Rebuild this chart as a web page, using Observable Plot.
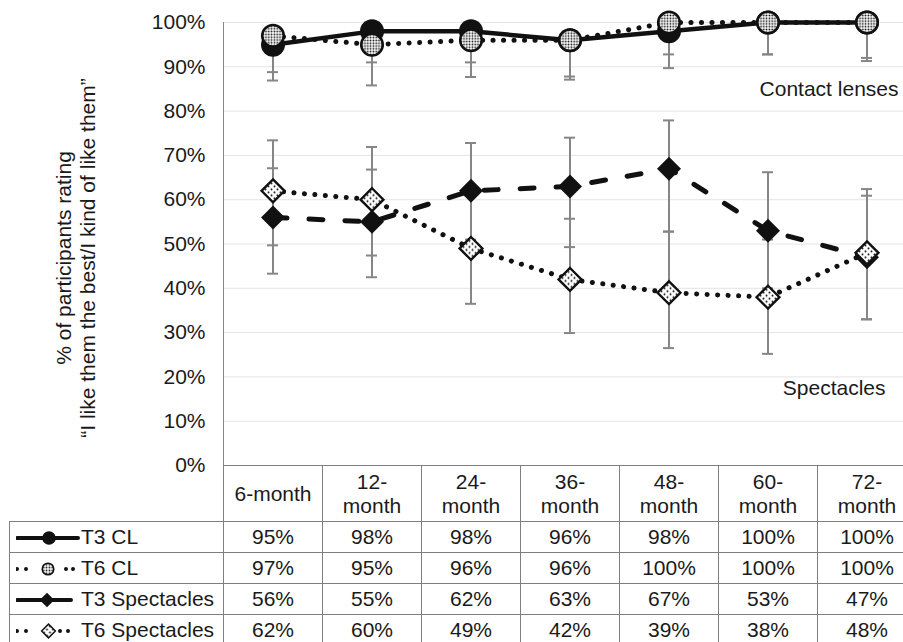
<!DOCTYPE html>
<html>
<head>
<meta charset="utf-8">
<script src="https://cdn.jsdelivr.net/npm/d3@7"></script>
<script src="https://cdn.jsdelivr.net/npm/@observablehq/plot@0.6"></script>
<style>
  html, body { margin: 0; padding: 0; background: #fff; }
  #wrap { position: relative; width: 903px; height: 642px; overflow: hidden;
          font-family: "Liberation Sans", Arial, sans-serif; color: #1a1a1a; }
  #tbl { position: absolute; border-collapse: collapse; table-layout: fixed; font-size: 21px; }
  #tbl td { border: 1px solid #7f7f7f; padding: 0; text-align: center; font-weight: normal;
            line-height: 24px; white-space: nowrap; }
  #tbl td.blank { border-top: none; border-left: none; }
  #tbl td.key { text-align: left; padding-left: 6px; }
  #tbl td.key svg { vertical-align: middle; }
  #tbl td.key span { vertical-align: middle; }
</style>
</head>
<body>
<div id="wrap"><div id="chart"></div></div>
<script>
// Follow-up visits (columns of the chart and of the data table)
const periods = ["6-month", "12-month", "24-month", "36-month", "48-month", "60-month", "72-month"];
const periodLabels = [["6-month"], ["12-", "month"], ["24-", "month"], ["36-", "month"],
                      ["48-", "month"], ["60-", "month"], ["72-", "month"]];

// % of participants rating "I like them the best / I kind of like them"
const seriesNames = ["T3 CL", "T6 CL", "T3 Spectacles", "T6 Spectacles"];
const t3CL   = [95, 98, 98, 96, 98, 100, 100];
const t6CL   = [97, 95, 96, 96, 100, 100, 100];
const t3Spec = [56, 55, 62, 63, 67, 53, 47];
const t6Spec = [62, 60, 49, 42, 39, 38, 48];

// Error bar limits (contact lens bars show the lower limit only)
const t3CLLow    = [86.9, 91.0, 91.0, 87.8, 89.7, 92.8, 92.0];
const t6CLLow    = [88.8, 85.8, 87.7, 87.1, 92.8, 92.8, 91.3];
const t3SpecLow  = [43.3, 42.5, 51.0, 49.3, 52.8, 40.0, 33.0];
const t3SpecHigh = [67.1, 66.8, 72.8, 74.0, 77.9, 66.2, 60.9];
const t6SpecLow  = [49.7, 47.4, 36.5, 29.9, 26.5, 25.2, 33.0];
const t6SpecHigh = [73.4, 71.9, 61.5, 55.7, 52.8, 51.0, 62.4];

const yTicks = d3.range(0, 101, 10);
const yTitle = "% of participants rating\n\u201CI like them the best/I kind of like them\u201D";
const groupNotes = ["Contact lenses", "Spectacles"];
const groupNoteAt = [85, 17.4];

const seriesTable = [
  {name: seriesNames[0], values: t3CL,   lo: t3CLLow,   hi: null},
  {name: seriesNames[1], values: t6CL,   lo: t6CLLow,   hi: null},
  {name: seriesNames[2], values: t3Spec, lo: t3SpecLow, hi: t3SpecHigh},
  {name: seriesNames[3], values: t6Spec, lo: t6SpecLow, hi: t6SpecHigh}
];
const rows = seriesTable.flatMap(s => periods.map((p, i) => ({
  series: s.name, period: p, value: s.values[i], lo: s.lo[i],
  hi: s.hi ? s.hi[i] : s.values[i], hasHi: !!s.hi
})));

// Line and marker styling per series
const ink = "#111";
const look = {
  "T3 CL":         {dash: null,       width: 4.5, symbol: "circle",   r: 12,   fill: ink, stroke: "none", sw: 0,
                    key: {x2: 62, dash: null, width: 4, at: 33, r: 6.8}},
  "T6 CL":         {dash: "0.1 10.4", width: 5,   symbol: "circle",   r: 10.8, fill: "url(#dotsFine)", stroke: ink, sw: 2.5,
                    key: {x2: 60, dash: "0 9 0 40 0 7", width: 4, at: 32, r: 5.8}},
  "T3 Spectacles": {dash: "14 22",    width: 5,   symbol: "diamond2", r: 10.8, fill: ink, stroke: "none", sw: 0,
                    key: {x2: 55, dash: null, width: 4, at: 31, r: 6.6}},
  "T6 Spectacles": {dash: "0.1 10.4", width: 5,   symbol: "diamond2", r: 10.3, fill: "url(#dotsSparse)", stroke: ink, sw: 2.4,
                    key: {x2: 55, dash: "0 9 0 34 0 8", width: 4, at: 32.5, r: 6.2}}
};

const textColor = "#1a1a1a";
const errColor = "#868686";
const marks = [
  Plot.gridY(yTicks.filter(d => d > 0), {stroke: "#e4e4e4", strokeOpacity: 1}),
  Plot.frame({anchor: "left", stroke: errColor}),
  Plot.axisY(yTicks, {tickFormat: d => d + "%", tickSize: 0, tickPadding: 18, fontSize: 21, fill: textColor}),
  Plot.text([yTitle], {text: d => d, frameAnchor: "left", textAnchor: "middle", rotate: -90, dx: -148, dy: 14,
                       lineHeight: 1.15, fontSize: 21, fill: textColor}),
  Plot.text(groupNotes.slice(0, 1), {text: d => d, x: () => periods[6], y: () => groupNoteAt[0],
                       textAnchor: "end", dx: 31.5, fontSize: 21, fill: textColor}),
  Plot.text(groupNotes.slice(1), {text: d => d, x: () => periods[6], y: () => groupNoteAt[1],
                       textAnchor: "end", dx: 18.5, fontSize: 21, fill: textColor}),
  // error bars
  Plot.ruleX(rows, {x: "period", y1: "lo", y2: "hi", stroke: errColor, strokeWidth: 2}),
  Plot.tickY(rows, {x: "period", y: "lo", stroke: errColor, strokeWidth: 2, insetLeft: 44, insetRight: 44}),
  Plot.tickY(rows.filter(d => d.hasHi), {x: "period", y: "hi", stroke: errColor, strokeWidth: 2, insetLeft: 44, insetRight: 44})
];
for (const name of seriesNames) {
  const s = look[name];
  const data = rows.filter(d => d.series === name);
  marks.push(
    Plot.line(data, {x: "period", y: "value", stroke: ink, strokeWidth: s.width,
                     strokeDasharray: s.dash, strokeLinecap: "round", strokeLinejoin: "round"}),
    Plot.dot(data, {x: "period", y: "value", symbol: () => s.symbol, r: s.r,
                    fill: s.fill, stroke: s.stroke, strokeWidth: s.sw})
  );
}

const chart = Plot.plot({
  width: 903,
  height: 466,
  marginLeft: 223,
  marginRight: 0,
  marginTop: 22,
  marginBottom: 1,
  style: {fontFamily: "'Liberation Sans', Arial, sans-serif", fontSize: "21px", background: "transparent", overflow: "visible"},
  x: {type: "band", domain: periods, range: [223, 916], padding: 0, axis: null},
  y: {domain: [0, 100], axis: null},
  symbol: {type: "identity"},
  marks
});

// marker fill patterns
const defs = d3.select(chart).insert("defs", ":first-child");
const fine = defs.append("pattern").attr("id", "dotsFine").attr("patternUnits", "userSpaceOnUse")
  .attr("width", 2.8).attr("height", 2.8);
fine.append("rect").attr("width", 2.8).attr("height", 2.8).attr("fill", "#fff");
fine.append("circle").attr("cx", 1.4).attr("cy", 1.4).attr("r", 0.9).attr("fill", ink);
const sparse = defs.append("pattern").attr("id", "dotsSparse").attr("patternUnits", "userSpaceOnUse")
  .attr("width", 6).attr("height", 6);
sparse.append("rect").attr("width", 6).attr("height", 6).attr("fill", "#fff");
sparse.append("circle").attr("cx", 1.5).attr("cy", 1.5).attr("r", 1).attr("fill", ink);
sparse.append("circle").attr("cx", 4.5).attr("cy", 4.5).attr("r", 1).attr("fill", ink);

document.getElementById("chart").appendChild(chart);

// Data table below the chart, aligned with the x scale's bands
const xs = chart.scale("x");
const step = xs.bandwidth;
const keyLeft = 9;
const keyWidth = xs.range[0] - keyLeft;

function keyGlyph(name) {
  const s = look[name], k = s.key;
  const svg = d3.create("svg").attr("width", 65).attr("height", 22);
  svg.append("line").attr("x1", 1).attr("x2", k.x2).attr("y1", 11).attr("y2", 11)
    .attr("stroke", ink).attr("stroke-width", k.width).attr("stroke-linecap", "round")
    .attr("stroke-dasharray", k.dash);
  const sym = s.symbol === "circle" ? d3.symbolCircle : d3.symbolDiamond2;
  svg.append("path").attr("d", d3.symbol(sym, Math.PI * k.r * k.r)())
    .attr("transform", `translate(${k.at},11)`)
    .attr("fill", s.fill).attr("stroke", s.stroke).attr("stroke-width", s.sw ? s.sw * 0.6 : 0);
  return svg.node();
}

const table = d3.select("#wrap").append("table").attr("id", "tbl")
  .style("left", keyLeft + "px").style("top", "465px")
  .style("width", (keyWidth + step * periods.length) + "px");
const cg = table.append("colgroup");
cg.append("col").style("width", keyWidth + "px");
periods.forEach(() => cg.append("col").style("width", step + "px"));

const head = table.append("tr").style("height", "56px");
head.append("td").attr("class", "blank");
periodLabels.forEach(lines => head.append("td").html(lines.join("<br>")));

seriesTable.forEach(s => {
  const tr = table.append("tr").style("height", "31px");
  const key = tr.append("td").attr("class", "key");
  key.node().appendChild(keyGlyph(s.name));
  key.append("span").text(s.name);
  s.values.forEach(v => tr.append("td").text(v + "%"));
});
</script>
</body>
</html>
